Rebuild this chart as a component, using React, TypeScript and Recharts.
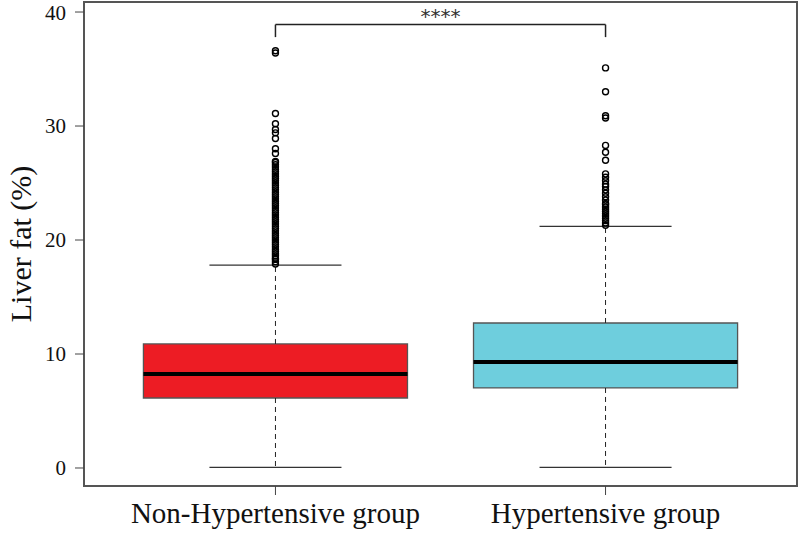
import { ComposedChart, XAxis, YAxis, Scatter, ReferenceArea, ReferenceLine } from "recharts";

const groups = ["Non-Hypertensive group", "Hypertensive group"];
const q1 = [6.14, 7.02];
const median = [8.25, 9.3];
const q3 = [10.88, 12.72];
const whiskerLow = [0.05, 0.05];
const whiskerHigh = [17.8, 21.2];
const yTicks = [0, 10, 20, 30, 40];

const outliersNonHyp = [
  17.9, 18.1, 18.3, 18.4, 18.6, 18.8, 19.0, 19.2, 19.4, 19.6, 19.8, 20.0, 20.2, 20.4,
  20.6, 20.8, 21.0, 21.2, 21.4, 21.6, 21.8, 22.0, 22.2, 22.4, 22.6, 22.8, 23.0, 23.2,
  23.4, 23.6, 23.8, 24.0, 24.2, 24.4, 24.6, 24.8, 25.0, 25.2, 25.4, 25.6, 25.8, 26.0,
  26.2, 26.4, 26.6, 26.8, 26.9, 27.6, 28.0, 28.9, 29.4, 29.7, 30.2, 31.1, 36.4, 36.6,
];
const outliersHyp = [
  21.3, 21.5, 21.7, 21.9, 22.1, 22.3, 22.5, 22.7, 22.9, 23.1, 23.2, 23.5, 23.8, 24.1,
  24.4, 24.7, 24.9, 25.2, 25.5, 25.8, 27.0, 27.7, 28.3, 30.7, 30.9, 33.0, 35.1,
];
const outliers = [outliersNonHyp, outliersHyp];

const fills = ["#ED1C24", "#6ECEDD"];
const signif = "****";
const bracketY = 38.9;
const bracketTip = 37.8;

const X_MIN = 0.42;
const X_MAX = 2.58;
const Y_MIN = -1.58;
const Y_MAX = 40.88;
const HALF_BOX = 0.4;
const HALF_CAP = 0.2;
const serif = "'Liberation Serif', 'Times New Roman', serif";

const Dot = (props: any) => (
  <circle cx={props.cx} cy={props.cy} r={3} fill="none" stroke="#000" strokeWidth={1.4} />
);

export default function App() {
  return (
    <div style={{ position: "absolute", left: 0, top: 0, background: "#fff" }}>
      <ComposedChart width={800} height={536} margin={{ top: 2, right: 3, bottom: 0, left: 0 }}>
        <XAxis
          type="number"
          dataKey="x"
          domain={[X_MIN, X_MAX]}
          ticks={[1, 2]}
          tickFormatter={(v: number) => groups[v - 1]}
          allowDataOverflow
          axisLine={false}
          tickSize={9}
          tickMargin={7}
          height={50}
          tickLine={{ stroke: "#444" }}
          tick={{ fill: "#111", fontSize: 29, fontFamily: serif }}
        />
        <YAxis
          type="number"
          dataKey="y"
          domain={[Y_MIN, Y_MAX]}
          ticks={yTicks}
          allowDataOverflow
          width={84}
          axisLine={false}
          tickSize={9}
          tickMargin={9}
          tickLine={{ stroke: "#444" }}
          tick={{ fill: "#111", fontSize: 21, fontFamily: serif }}
          label={{
            value: "Liver fat (%)",
            angle: -90,
            position: "center",
            dx: -22,
            style: { fill: "#111", fontSize: 30, fontFamily: serif },
          }}
        />

        {groups.map((g, i) => (
          <ReferenceLine
            key={"wh" + g}
            segment={[{ x: i + 1, y: q3[i] }, { x: i + 1, y: whiskerHigh[i] }]}
            stroke="#222"
            strokeDasharray="5 4"
          />
        ))}
        {groups.map((g, i) => (
          <ReferenceLine
            key={"wl" + g}
            segment={[{ x: i + 1, y: q1[i] }, { x: i + 1, y: whiskerLow[i] }]}
            stroke="#222"
            strokeDasharray="5 4"
          />
        ))}
        {groups.map((g, i) => (
          <ReferenceLine
            key={"ch" + g}
            segment={[{ x: i + 1 - HALF_CAP, y: whiskerHigh[i] }, { x: i + 1 + HALF_CAP, y: whiskerHigh[i] }]}
            stroke="#333"
            strokeWidth={1.3}
          />
        ))}
        {groups.map((g, i) => (
          <ReferenceLine
            key={"cl" + g}
            segment={[{ x: i + 1 - HALF_CAP, y: whiskerLow[i] }, { x: i + 1 + HALF_CAP, y: whiskerLow[i] }]}
            stroke="#333"
            strokeWidth={1.3}
          />
        ))}
        {groups.map((g, i) => (
          <ReferenceArea
            key={"box" + g}
            x1={i + 1 - HALF_BOX}
            x2={i + 1 + HALF_BOX}
            y1={q1[i]}
            y2={q3[i]}
            fill={fills[i]}
            fillOpacity={1}
            stroke="#555"
            strokeWidth={1.3}
          />
        ))}
        {groups.map((g, i) => (
          <ReferenceLine
            key={"med" + g}
            segment={[{ x: i + 1 - HALF_BOX, y: median[i] }, { x: i + 1 + HALF_BOX, y: median[i] }]}
            stroke="#000"
            strokeWidth={4}
          />
        ))}

        {groups.map((g, i) => (
          <Scatter
            key={"out" + g}
            data={outliers[i].map((v) => ({ x: i + 1, y: v }))}
            shape={Dot}
            isAnimationActive={false}
          />
        ))}

        <ReferenceLine
          segment={[{ x: 1, y: bracketY }, { x: 2, y: bracketY }]}
          stroke="#222"
          strokeWidth={1.5}
          label={{ value: signif, position: "top", offset: 2, style: { fill: "#333", fontSize: 20, fontFamily: "'DejaVu Sans', sans-serif" } }}
        />
        <ReferenceLine segment={[{ x: 1, y: bracketY }, { x: 1, y: bracketTip }]} stroke="#222" strokeWidth={1.5} />
        <ReferenceLine segment={[{ x: 2, y: bracketY }, { x: 2, y: bracketTip }]} stroke="#222" strokeWidth={1.5} />

        <ReferenceArea
          x1={X_MIN}
          x2={X_MAX}
          y1={Y_MIN}
          y2={Y_MAX}
          fill="none"
          stroke="#555"
          strokeWidth={2}
        />
      </ComposedChart>
    </div>
  );
}
